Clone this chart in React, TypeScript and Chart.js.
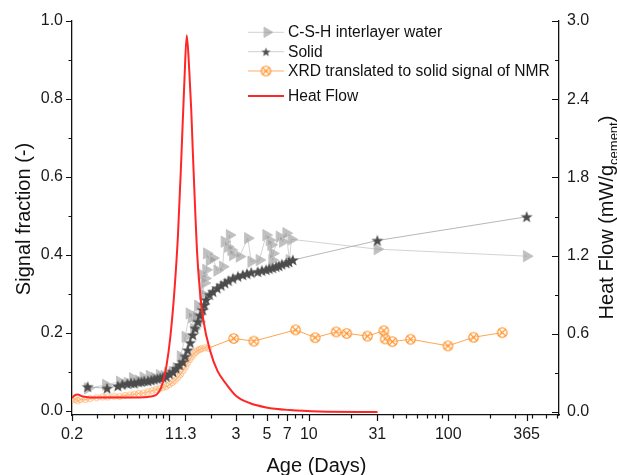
import React, { useEffect, useRef } from 'react';
import { Chart, registerables } from 'chart.js';

Chart.register(...registerables);

// ---------- data ----------
const HEAT_DAYS = [0.2, 0.21, 0.22, 0.235, 0.26, 0.3, 0.35, 0.4, 0.5, 0.6, 0.7, 0.76, 0.81, 0.848, 0.895, 0.952, 1.017, 1.086, 1.151, 1.219, 1.281, 1.331, 1.387, 1.434, 1.47, 1.525, 1.576, 1.642, 1.754, 1.96, 2.211, 2.553, 3.012, 3.752, 4.946, 7.27, 11.94, 31.1];
const HEAT_FLOW = [0.108, 0.13, 0.135, 0.122, 0.114, 0.112, 0.111, 0.111, 0.111, 0.112, 0.116, 0.122, 0.135, 0.16, 0.225, 0.354, 0.585, 0.931, 1.354, 1.969, 2.546, 2.89, 2.623, 2.315, 2.008, 1.585, 1.238, 0.969, 0.7, 0.469, 0.315, 0.215, 0.123, 0.069, 0.035, 0.015, 0.004, 0.0];

const CSH_DAYS = [0.26, 0.35, 0.44, 0.5, 0.545, 0.6, 0.65, 0.72, 0.78, 0.85, 0.92, 0.97, 1.05, 1.12, 1.2, 1.3, 1.39, 1.45, 1.5, 1.55, 1.6, 1.64, 1.7, 1.73, 1.78, 1.8, 1.83, 1.85, 1.94, 2.05, 2.2, 2.41, 2.48, 2.62, 2.7, 2.77, 2.85, 3.18, 3.65, 3.86, 4.42, 4.94, 5.22, 5.36, 5.45, 5.52, 6.15, 6.5, 6.88, 7.26, 7.5, 31, 365];
const CSH_VALUES = [0.058, 0.067, 0.075, 0.072, 0.084, 0.078, 0.086, 0.09, 0.085, 0.092, 0.09, 0.097, 0.1, 0.11, 0.14, 0.19, 0.25, 0.24, 0.21, 0.242, 0.27, 0.229, 0.35, 0.30, 0.328, 0.34, 0.362, 0.404, 0.387, 0.392, 0.36, 0.37, 0.434, 0.421, 0.451, 0.413, 0.40, 0.396, 0.443, 0.383, 0.387, 0.451, 0.438, 0.426, 0.387, 0.404, 0.447, 0.434, 0.456, 0.387, 0.44, 0.415, 0.397];

const SOLID_DAYS = [0.259, 0.357, 0.426, 0.46, 0.5, 0.53, 0.56, 0.6, 0.63, 0.66, 0.7, 0.74, 0.78, 0.82, 0.86, 0.9, 0.95, 1.0, 1.06, 1.117, 1.18, 1.246, 1.3, 1.353, 1.41, 1.47, 1.53, 1.6, 1.66, 1.73, 1.78, 1.83, 1.94, 2.05, 2.2, 2.35, 2.5, 2.65, 2.85, 3.1, 3.36, 3.6, 3.86, 4.3, 4.6, 4.94, 5.2, 5.5, 5.82, 6.1, 6.4, 6.88, 7.2, 7.68, 31, 365];
const SOLID_VALUES = [0.062, 0.058, 0.064, 0.068, 0.07, 0.072, 0.071, 0.074, 0.075, 0.077, 0.077, 0.079, 0.081, 0.083, 0.085, 0.086, 0.088, 0.095, 0.1, 0.109, 0.118, 0.126, 0.14, 0.156, 0.175, 0.195, 0.212, 0.229, 0.245, 0.259, 0.272, 0.285, 0.298, 0.306, 0.315, 0.322, 0.328, 0.334, 0.34, 0.345, 0.349, 0.352, 0.355, 0.357, 0.36, 0.362, 0.365, 0.367, 0.37, 0.372, 0.376, 0.379, 0.382, 0.387, 0.437, 0.498];

const XRD_DAYS = [0.2, 0.21, 0.22, 0.23, 0.25, 0.27, 0.3, 0.33, 0.36, 0.4, 0.44, 0.48, 0.52, 0.56, 0.6, 0.65, 0.7, 0.75, 0.8, 0.85, 0.9, 0.95, 1.0, 1.05, 1.1, 1.15, 1.2, 1.25, 1.3, 1.35, 1.4, 1.45, 1.5, 1.55, 1.6, 1.65, 1.7, 1.8, 1.9, 2.89, 4.03, 8.03, 11.1, 15.7, 18.7, 26.3, 34.5, 35.3, 39.7, 53.7, 99.5, 152, 244];
const XRD_VALUES = [0.028, 0.03, 0.026, 0.03, 0.029, 0.032, 0.034, 0.036, 0.036, 0.038, 0.037, 0.04, 0.041, 0.043, 0.045, 0.046, 0.049, 0.052, 0.055, 0.057, 0.06, 0.063, 0.068, 0.073, 0.079, 0.086, 0.094, 0.103, 0.113, 0.123, 0.132, 0.14, 0.147, 0.152, 0.156, 0.158, 0.16, 0.162, 0.161, 0.186, 0.179, 0.208, 0.188, 0.203, 0.199, 0.192, 0.206, 0.185, 0.178, 0.184, 0.167, 0.189, 0.201];
const XRD_DENSE_UNTIL = 2.5;

const X_LABEL_TICKS = [0.2, 1, 1.3, 3, 5, 7, 10, 31, 100, 365];
const X_MINOR_TICKS = [0.3, 0.4, 0.5, 0.6, 0.7, 0.8, 0.9, 2, 4, 6, 8, 9, 20, 40, 50, 60, 70, 80, 90, 200, 300, 400, 500, 600];
const Y_LEFT_MAJOR = [0, 0.2, 0.4, 0.6, 0.8, 1.0];
const Y_LEFT_MINOR = [0.1, 0.3, 0.5, 0.7, 0.9];
const Y_RIGHT_MAJOR = [0, 0.6, 1.2, 1.8, 2.4, 3.0];
const Y_RIGHT_MINOR = [0.3, 0.9, 1.5, 2.1, 2.7];

const LEGEND_LABELS = ['C-S-H interlayer water', 'Solid', 'XRD translated to solid signal of NMR', 'Heat Flow'];

const FONT = '"Liberation Sans", Arial, Helvetica, sans-serif';
const ORANGE = '#ff8a1c';
const RED = '#ff2626';
const STAR_COLOR = '#4c4c4c';
const TRI_FILL = 'rgba(150,150,150,0.6)';
const TRI_BORDER = 'rgba(195,195,195,0.95)';

function zip(xs: number[], ys: number[]) {
  const n = Math.min(xs.length, ys.length);
  const out: { x: number; y: number }[] = [];
  for (let i = 0; i < n; i++) out.push({ x: xs[i], y: ys[i] });
  return out;
}

function makeStar(size: number, R: number, r: number, color: string) {
  const c = document.createElement('canvas');
  c.width = size; c.height = size;
  const g = c.getContext('2d')!;
  const cx = size / 2, cy = size / 2 + 0.5;
  g.beginPath();
  for (let i = 0; i < 10; i++) {
    const ang = -Math.PI / 2 + (i * Math.PI) / 5;
    const rad = i % 2 === 0 ? R : r;
    const px = cx + Math.cos(ang) * rad, py = cy + Math.sin(ang) * rad;
    if (i === 0) g.moveTo(px, py); else g.lineTo(px, py);
  }
  g.closePath();
  g.fillStyle = color;
  g.fill();
  return c;
}

function makeCircleX(size: number, rad: number, color: string, lw: number) {
  const c = document.createElement('canvas');
  c.width = size; c.height = size;
  const g = c.getContext('2d')!;
  const cx = size / 2, cy = size / 2;
  g.strokeStyle = color;
  g.lineWidth = lw;
  g.fillStyle = 'rgba(255,255,255,0.35)';
  g.beginPath();
  g.arc(cx, cy, rad, 0, Math.PI * 2);
  g.fill();
  g.stroke();
  const d = rad * Math.SQRT1_2;
  g.beginPath();
  g.moveTo(cx - d, cy - d); g.lineTo(cx + d, cy + d);
  g.moveTo(cx + d, cy - d); g.lineTo(cx - d, cy + d);
  g.stroke();
  return c;
}

function drawTriangle(ctx: CanvasRenderingContext2D, x: number, y: number, r: number) {
  ctx.beginPath();
  ctx.moveTo(x + r, y);
  ctx.lineTo(x - r / 2, y - r * 0.866);
  ctx.lineTo(x - r / 2, y + r * 0.866);
  ctx.closePath();
  ctx.fillStyle = TRI_FILL;
  ctx.fill();
  ctx.strokeStyle = TRI_BORDER;
  ctx.lineWidth = 1;
  ctx.stroke();
}

export default function App() {
  const ref = useRef<HTMLCanvasElement>(null);

  useEffect(() => {
    document.body.style.margin = '0';
    const canvas = ref.current!;
    const star = makeStar(14, 6.2, 2.6, STAR_COLOR);
    const starLegend = makeStar(11, 4.8, 2.0, STAR_COLOR);
    const xrdBig = makeCircleX(13, 4.7, ORANGE, 1.1);
    const xrdSmall = makeCircleX(9, 3.0, 'rgba(255,150,60,0.75)', 0.8);

    const decor = {
      id: 'decor',
      afterDraw(chart: any) {
        const { ctx, chartArea: a, scales } = chart;
        const xs = scales.x, yl = scales.y, yr = scales.y1;
        ctx.save();
        // tick marks
        ctx.strokeStyle = '#111';
        ctx.lineWidth = 1.2;
        ctx.beginPath();
        const vx = (v: number, len: number) => {
          const p = Math.round(xs.getPixelForValue(v)) + 0.5;
          ctx.moveTo(p, a.bottom); ctx.lineTo(p, a.bottom + len);
        };
        X_LABEL_TICKS.forEach((v) => vx(v, 6));
        X_MINOR_TICKS.forEach((v) => vx(v, 3.5));
        const hl = (v: number, len: number) => {
          const p = Math.round(yl.getPixelForValue(v)) + 0.5;
          ctx.moveTo(a.left, p); ctx.lineTo(a.left - len, p);
        };
        Y_LEFT_MAJOR.forEach((v) => hl(v, 6));
        Y_LEFT_MINOR.forEach((v) => hl(v, 3.5));
        const hr = (v: number, len: number) => {
          const p = Math.round(yr.getPixelForValue(v)) + 0.5;
          ctx.moveTo(a.right, p); ctx.lineTo(a.right - len, p);
        };
        Y_RIGHT_MAJOR.forEach((v) => hr(v, 7));
        Y_RIGHT_MINOR.forEach((v) => hr(v, 4));
        ctx.stroke();

        // legend
        const x0 = 248, x1 = 284, tx = 288;
        const ys = [32.3, 51.7, 71, 96];
        ctx.lineWidth = 1.2;
        ctx.strokeStyle = '#dadada';
        ctx.beginPath(); ctx.moveTo(x0, ys[0]); ctx.lineTo(x1, ys[0]); ctx.stroke();
        drawTriangle(ctx, 267, ys[0], 6);
        ctx.strokeStyle = '#cfcfcf';
        ctx.beginPath(); ctx.moveTo(x0, ys[1]); ctx.lineTo(x1, ys[1]); ctx.stroke();
        ctx.drawImage(starLegend, 266 - 5.5, ys[1] - 5.5);
        ctx.strokeStyle = 'rgba(255,165,90,0.9)';
        ctx.beginPath(); ctx.moveTo(x0, ys[2]); ctx.lineTo(x1, ys[2]); ctx.stroke();
        ctx.drawImage(xrdBig, 266 - 6.5, ys[2] - 6.5);
        ctx.strokeStyle = RED;
        ctx.lineWidth = 2;
        ctx.beginPath(); ctx.moveTo(x0, ys[3]); ctx.lineTo(x1, ys[3]); ctx.stroke();
        ctx.fillStyle = '#111';
        ctx.font = `15.6px ${FONT}`;
        ctx.textAlign = 'left';
        ctx.textBaseline = 'middle';
        LEGEND_LABELS.forEach((t, i) => ctx.fillText(t, tx, ys[i] + 0.5));

        // axis titles
        ctx.textBaseline = 'alphabetic';
        ctx.font = `20px ${FONT}`;
        ctx.save();
        ctx.translate(29.5, 219);
        ctx.rotate(-Math.PI / 2);
        ctx.textAlign = 'center';
        ctx.fillText('Signal fraction (-)', 0, 0);
        ctx.restore();

        ctx.save();
        ctx.translate(612.5, 217.5);
        ctx.rotate(-Math.PI / 2);
        ctx.textAlign = 'left';
        const main = 'Heat Flow (mW/g';
        const sub = 'cement';
        const close = ')';
        ctx.font = `20px ${FONT}`;
        const w1 = ctx.measureText(main).width;
        const w3 = ctx.measureText(close).width;
        ctx.font = `13px ${FONT}`;
        const w2 = ctx.measureText(sub).width;
        const start = -(w1 + w2 + w3) / 2;
        ctx.font = `20px ${FONT}`;
        ctx.fillText(main, start, 0);
        ctx.font = `13px ${FONT}`;
        ctx.fillText(sub, start + w1, 5);
        ctx.font = `20px ${FONT}`;
        ctx.fillText(close, start + w1 + w2, 0);
        ctx.restore();

        ctx.textAlign = 'center';
        ctx.fillText('Age (Days)', 316.5, 472);
        ctx.restore();
      },
    };

    const tickFont = { family: FONT, size: 16 };

    const chart = new Chart(canvas, {
      type: 'scatter',
      data: {
        datasets: [
          {
            label: 'Heat Flow',
            data: zip(HEAT_DAYS, HEAT_FLOW),
            yAxisID: 'y1',
            showLine: true,
            borderColor: RED,
            borderWidth: 2,
            pointRadius: 0,
            cubicInterpolationMode: 'monotone',
          } as any,
          {
            label: 'Solid',
            data: zip(SOLID_DAYS, SOLID_VALUES),
            yAxisID: 'y',
            showLine: true,
            borderColor: 'rgba(175,175,175,0.9)',
            borderWidth: 1,
            pointStyle: star,
          } as any,
          {
            label: 'XRD translated to solid signal of NMR',
            data: zip(XRD_DAYS, XRD_VALUES),
            yAxisID: 'y',
            showLine: true,
            borderColor: 'rgba(255,155,60,0.9)',
            borderWidth: 1,
            pointStyle: (c: any) => (c.raw && c.raw.x < XRD_DENSE_UNTIL ? xrdSmall : xrdBig),
          } as any,
          {
            label: 'C-S-H interlayer water',
            data: zip(CSH_DAYS, CSH_VALUES),
            yAxisID: 'y',
            showLine: true,
            borderColor: 'rgba(185,185,185,0.8)',
            borderWidth: 0.8,
            pointStyle: 'triangle',
            rotation: 90,
            pointRadius: 6.5,
            pointBackgroundColor: TRI_FILL,
            pointBorderColor: TRI_BORDER,
            pointBorderWidth: 1,
          } as any,
        ],
      },
      options: {
        responsive: false,
        animation: false,
        devicePixelRatio: 1,
        layout: { padding: { top: 21, left: 0, right: 0, bottom: 0 } },
        plugins: { legend: { display: false }, tooltip: { enabled: false } },
        scales: {
          x: {
            type: 'logarithmic',
            position: 'bottom',
            min: 0.2,
            max: 623,
            afterBuildTicks: (s: any) => {
              s.ticks = [...X_LABEL_TICKS, ...X_MINOR_TICKS].sort((p, q) => p - q).map((v) => ({ value: v }));
            },
            afterFit: (s: any) => { s.height = 60; },
            grid: { display: false, drawTicks: false },
            border: { display: true, color: '#111', width: 1.3 },
            ticks: {
              autoSkip: false,
              maxRotation: 0,
              minRotation: 0,
              padding: 10,
              color: '#1a1a1a',
              font: tickFont,
              callback: (v: any) => (X_LABEL_TICKS.includes(v) ? String(v) : ''),
            },
          },
          y: {
            type: 'linear',
            position: 'left',
            min: -0.0103,
            max: 1.0,
            afterBuildTicks: (s: any) => {
              s.ticks = [...Y_LEFT_MAJOR, ...Y_LEFT_MINOR].sort((p, q) => p - q).map((v) => ({ value: v }));
            },
            afterFit: (s: any) => { s.width = 72; },
            grid: { display: false, drawTicks: false },
            border: { display: true, color: '#111', width: 1.3 },
            ticks: {
              padding: 9,
              color: '#1a1a1a',
              font: tickFont,
              callback: (v: any) => (Y_LEFT_MAJOR.includes(v) ? Number(v).toFixed(1) : ''),
            },
          },
          y1: {
            type: 'linear',
            position: 'right',
            min: -0.023,
            max: 3.0,
            afterBuildTicks: (s: any) => {
              s.ticks = [...Y_RIGHT_MAJOR, ...Y_RIGHT_MINOR].sort((p, q) => p - q).map((v) => ({ value: v }));
            },
            afterFit: (s: any) => { s.width = 58; },
            grid: { display: false, drawTicks: false },
            border: { display: true, color: '#111', width: 1.3 },
            ticks: {
              padding: 8,
              color: '#1a1a1a',
              font: tickFont,
              callback: (v: any) => (Y_RIGHT_MAJOR.includes(v) ? Number(v).toFixed(1) : ''),
            },
          },
        },
      } as any,
      plugins: [decor],
    });

    return () => chart.destroy();
  }, []);

  return <canvas ref={ref} width={617} height={475} style={{ display: 'block' }} />;
}
